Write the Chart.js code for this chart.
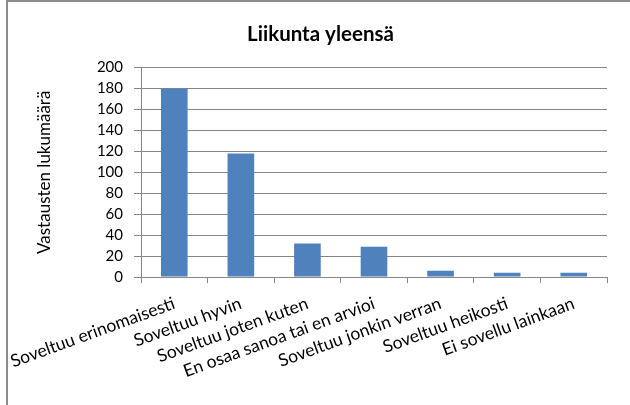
<!DOCTYPE html>
<html><head><meta charset="utf-8">
<script src="https://cdn.jsdelivr.net/npm/chart.js@4"></script>
<style>
html,body{margin:0;padding:0;background:#fff;overflow:hidden;}
#wrap{position:relative;width:630px;height:405px;overflow:hidden;}
#frame{position:absolute;left:6px;top:0;width:700px;height:500px;border-left:2px solid #8c8c8c;border-top:2px solid #8c8c8c;box-sizing:border-box;pointer-events:none;}
canvas{position:absolute;left:0;top:0;}
</style></head><body>
<div id="wrap"><canvas id="c" width="630" height="405"></canvas><div id="frame"></div></div>
<script>
const categories = ['Soveltuu erinomaisesti','Soveltuu hyvin','Soveltuu joten kuten','En osaa sanoa tai en arvioi','Soveltuu jonkin verran','Soveltuu heikosti','Ei sovellu lainkaan'];
const values = [180, 118, 32, 29, 6, 4, 4];
const yMin = 0, yMax = 200, yStep = 20;
const chartTitle = 'Liikunta yleensä';
const yAxisTitle = 'Vastausten lukumäärä';

const FONT = 'Lato';
new Chart(document.getElementById('c'), {
  type: 'bar',
  data: {
    labels: categories,
    datasets: [{
      data: values,
      backgroundColor: '#4F81BD',
      borderWidth: 0,
      barPercentage: 0.4,
      categoryPercentage: 1
    }]
  },
  options: {
    responsive: false,
    animation: false,
    devicePixelRatio: 1,
    layout: { padding: { left: 34, right: 23, top: 0, bottom: 0 } },
    plugins: {
      legend: { display: false },
      tooltip: { enabled: false },
      title: {
        display: true, text: chartTitle, color: '#000',
        font: { family: FONT, size: 20.5, weight: 'bold' },
        padding: { top: 22, bottom: 21 }
      }
    },
    scales: {
      x: {
        grid: { display: true, offset: true, drawOnChartArea: false, drawTicks: true, tickLength: 6, color: '#868686' },
        border: { color: '#868686' },
        ticks: { font: { family: FONT, size: 17.5 }, color: '#000', minRotation: 20, maxRotation: 20, autoSkip: false, padding: 10 },
        afterFit(s) { s.height = 128; s.paddingLeft = 0; s.paddingRight = 0; }
      },
      y: {
        min: yMin, max: yMax,
        ticks: { stepSize: yStep, autoSkip: false, font: { family: FONT, size: 15 }, color: '#000', padding: 11 },
        grid: { color: '#868686', tickLength: 7 },
        border: { color: '#868686' },
        title: { display: true, text: yAxisTitle, color: '#000', font: { family: FONT, size: 17 }, padding: { top: 0, bottom: 0 } },
        afterFit(s) { s.width = 107; s.paddingTop = 0; s.paddingBottom = 0; }
      }
    }
  }
});
</script>
</body></html>
